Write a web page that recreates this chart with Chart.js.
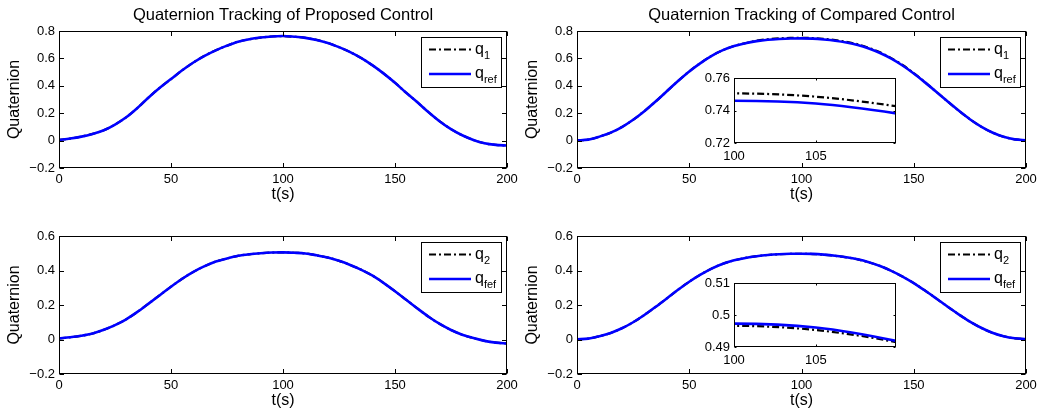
<!DOCTYPE html>
<html>
  <head>
    <title>Quaternion Tracking</title>
    <meta charset="UTF-8" />
    <script src="https://cdn.jsdelivr.net/npm/chart.js"></script>
    <style>
      body { margin: 0; background: #fff; }
      #wrap { position: relative; width: 1041px; height: 416px; }
      #wrap canvas { position: absolute; left: 0; top: 0; }
    </style>
  </head>
  <body>
    <div id="wrap">
      <canvas id="tl" width="1041" height="416"></canvas>
      <canvas id="tr" width="1041" height="416"></canvas>
      <canvas id="bl" width="1041" height="416"></canvas>
      <canvas id="br" width="1041" height="416"></canvas>
      <canvas id="trInset" width="1041" height="416"></canvas>
      <canvas id="brInset" width="1041" height="416"></canvas>
    </div>
    <script>
      // time samples (s)
      var time = [0, 5, 10, 15, 20, 25, 30, 35, 40, 45, 50, 55, 60, 65, 70, 75, 80, 85, 90, 95, 100,
                  105, 110, 115, 120, 125, 130, 135, 140, 145, 150, 155, 160, 165, 170, 175, 180, 185, 190, 195, 200];

      // proposed control
      var q1Proposed = [0.005, 0.015, 0.029, 0.049, 0.075, 0.117, 0.170, 0.238, 0.315, 0.386, 0.449, 0.513, 0.570, 0.619, 0.659, 0.693, 0.722, 0.740, 0.752, 0.760, 0.763,
                        0.758, 0.750, 0.735, 0.713, 0.682, 0.646, 0.602, 0.549, 0.489, 0.422, 0.349, 0.280, 0.207, 0.140, 0.084, 0.039, 0.005, -0.019, -0.031, -0.036];
      var qref1Proposed = [0.005, 0.015, 0.029, 0.049, 0.075, 0.117, 0.170, 0.238, 0.315, 0.386, 0.449, 0.513, 0.570, 0.619, 0.659, 0.693, 0.722, 0.740, 0.752, 0.760, 0.763,
                           0.758, 0.750, 0.735, 0.713, 0.682, 0.646, 0.602, 0.549, 0.489, 0.422, 0.349, 0.280, 0.207, 0.140, 0.084, 0.039, 0.005, -0.019, -0.031, -0.036];
      var q2Proposed = [0.006, 0.013, 0.022, 0.035, 0.056, 0.083, 0.117, 0.160, 0.208, 0.257, 0.306, 0.352, 0.392, 0.425, 0.452, 0.470, 0.485, 0.494, 0.500, 0.504, 0.505,
                        0.503, 0.499, 0.488, 0.475, 0.456, 0.432, 0.404, 0.370, 0.327, 0.280, 0.230, 0.180, 0.132, 0.090, 0.055, 0.028, 0.008, -0.008, -0.018, -0.023];
      var qref2Proposed = [0.006, 0.013, 0.022, 0.035, 0.056, 0.083, 0.117, 0.160, 0.208, 0.257, 0.306, 0.352, 0.392, 0.425, 0.452, 0.470, 0.485, 0.494, 0.500, 0.504, 0.505,
                           0.503, 0.499, 0.488, 0.475, 0.456, 0.432, 0.404, 0.370, 0.327, 0.280, 0.230, 0.180, 0.132, 0.090, 0.055, 0.028, 0.008, -0.008, -0.018, -0.023];

      // compared control
      var q1Compared = [0.002, 0.007, 0.029, 0.058, 0.099, 0.152, 0.215, 0.285, 0.360, 0.435, 0.505, 0.566, 0.619, 0.660, 0.690, 0.711, 0.729, 0.740, 0.746, 0.7495, 0.7505,
                        0.7485, 0.7425, 0.734, 0.721, 0.703, 0.677, 0.644, 0.602, 0.552, 0.493, 0.426, 0.357, 0.287, 0.219, 0.156, 0.102, 0.059, 0.028, 0.009, 0.003];
      var qref1Compared = [0.002, 0.007, 0.029, 0.058, 0.099, 0.152, 0.215, 0.285, 0.360, 0.435, 0.505, 0.566, 0.619, 0.660, 0.690, 0.711, 0.726, 0.736, 0.742, 0.7455, 0.746,
                           0.7443, 0.7381, 0.729, 0.716, 0.698, 0.672, 0.639, 0.598, 0.548, 0.490, 0.425, 0.357, 0.287, 0.219, 0.156, 0.102, 0.059, 0.028, 0.009, 0.003];
      var q2Compared = [0.001, 0.005, 0.019, 0.038, 0.065, 0.100, 0.142, 0.189, 0.238, 0.288, 0.335, 0.376, 0.411, 0.439, 0.459, 0.473, 0.483, 0.490, 0.494, 0.4962, 0.4966,
                        0.4953, 0.4914, 0.485, 0.4765, 0.4645, 0.4475, 0.426, 0.398, 0.365, 0.327, 0.284, 0.238, 0.191, 0.146, 0.104, 0.068, 0.039, 0.019, 0.007, 0.002];
      var qref2Compared = [0.001, 0.005, 0.019, 0.038, 0.065, 0.100, 0.142, 0.189, 0.238, 0.288, 0.335, 0.376, 0.411, 0.439, 0.459, 0.473, 0.483, 0.490, 0.4945, 0.4968, 0.4973,
                           0.4961, 0.4918, 0.4855, 0.477, 0.465, 0.448, 0.426, 0.398, 0.365, 0.327, 0.284, 0.238, 0.191, 0.146, 0.104, 0.068, 0.039, 0.019, 0.007, 0.002];

      // ticks and labels
      var timeTicks = [0, 50, 100, 150, 200];
      var yTicksQ1 = [-0.2, 0, 0.2, 0.4, 0.6, 0.8];
      var yTicksQ2 = [-0.2, 0, 0.2, 0.4, 0.6];
      var insetTimeTicks = [100, 105];
      var insetTicksQ1 = [0.72, 0.74, 0.76];
      var insetTicksQ2 = [0.49, 0.5, 0.51];
      var titles = ["Quaternion Tracking of Proposed Control", "Quaternion Tracking of Compared Control"];
      var legendSubsQ1 = ["1", "ref"];
      var legendSubsQ2 = ["2", "fef"];

      var FONT = '"Liberation Sans", Arial, Helvetica, sans-serif';
      Chart.defaults.font.family = FONT;
      Chart.defaults.color = "#000";

      var W = 1041, H = 416;
      var Y_BOX = 40, X_BOX = 24; // room kept for the tick labels

      function fmt(v) {
        var s = String(parseFloat(Math.abs(v).toFixed(4)));
        return v < 0 ? "\u2212" + s : s;
      }

      function points(arr) {
        return time.map(function (t, i) { return { x: t, y: arr[i] }; });
      }

      function decorPlugin(o) {
        return {
          id: "decor",
          beforeDraw: function (chart) {
            if (!o.inset) return;
            var a = chart.chartArea;
            chart.ctx.fillStyle = "#fff";
            chart.ctx.fillRect(a.left, a.top, a.right - a.left, a.bottom - a.top);
          },
          afterDraw: function (chart) {
            var a = chart.chartArea, ctx = chart.ctx;
            var xs = chart.scales.x, ys = chart.scales.y;
            ctx.save();
            ctx.strokeStyle = "#000";
            ctx.lineWidth = 1;
            var L = Math.round(a.left) + 0.5, R = Math.round(a.right) - 0.5;
            var T = Math.round(a.top) + 0.5, B = Math.round(a.bottom) - 0.5;
            ctx.strokeRect(L, T, R - L, B - T);
            // inward tick marks on all four sides
            ctx.beginPath();
            o.xTicks.forEach(function (v) {
              var p = Math.round(xs.getPixelForValue(v)) + 0.5;
              ctx.moveTo(p, B); ctx.lineTo(p, B - o.tick);
              ctx.moveTo(p, T); ctx.lineTo(p, T + o.tick);
            });
            o.yTicks.forEach(function (v) {
              var p = Math.round(ys.getPixelForValue(v)) + 0.5;
              ctx.moveTo(L, p); ctx.lineTo(L + o.tick, p);
              ctx.moveTo(R, p); ctx.lineTo(R - o.tick, p);
            });
            ctx.stroke();

            ctx.fillStyle = "#000";
            if (o.title) {
              ctx.font = "16.5px " + FONT;
              ctx.textAlign = "center";
              ctx.textBaseline = "middle";
              ctx.fillText(o.title, (a.left + a.right) / 2, a.top - 16);
            }
            if (o.xLabel) {
              ctx.font = "16px " + FONT;
              ctx.textAlign = "center";
              ctx.textBaseline = "middle";
              ctx.fillText(o.xLabel, (a.left + a.right) / 2, a.bottom + 27);
              ctx.save();
              ctx.translate(a.left - 44, (a.top + a.bottom) / 2);
              ctx.rotate(-Math.PI / 2);
              ctx.fillText(o.yLabel, 0, 0);
              ctx.restore();
            }
            if (o.legend) {
              var lw = 81, lh = 51;
              var lx = Math.round(a.right) - 5 - lw, ly = Math.round(a.top) + 6;
              ctx.fillStyle = "#fff";
              ctx.fillRect(lx, ly, lw, lh);
              ctx.strokeRect(lx + 0.5, ly + 0.5, lw - 1, lh - 1);
              o.legend.forEach(function (item, i) {
                var y = ly + 12.5 + i * 24.5;
                ctx.beginPath();
                ctx.setLineDash(item.dash || []);
                ctx.strokeStyle = item.color;
                ctx.lineWidth = item.width;
                ctx.moveTo(lx + 8, y);
                ctx.lineTo(lx + 50, y);
                ctx.stroke();
                ctx.setLineDash([]);
                ctx.fillStyle = "#000";
                ctx.textAlign = "left";
                ctx.textBaseline = "alphabetic";
                ctx.font = "16px " + FONT;
                ctx.fillText("q", lx + 54, y + 4);
                var qw = ctx.measureText("q").width;
                ctx.font = "11px " + FONT;
                ctx.fillText(item.sub, lx + 54 + qw, y + 9);
              });
            }
            ctx.restore();
          }
        };
      }

      function makeChart(id, area, o) {
        var ds = [
          {
            data: points(o.q),
            borderColor: "#000",
            borderWidth: 2.2,
            borderDash: [7, 3, 2, 3],
            order: 2
          },
          {
            data: points(o.ref),
            borderColor: "rgb(0,0,255)",
            borderWidth: 2.6,
            order: 1
          }
        ];
        ds.forEach(function (d) {
          d.pointRadius = 0;
          d.fill = false;
          d.cubicInterpolationMode = "monotone";
        });
        var legend = o.subs ? [
          { sub: o.subs[0], color: "#000", width: 2.2, dash: [7, 3, 2, 3] },
          { sub: o.subs[1], color: "rgb(0,0,255)", width: 2.6 }
        ] : null;
        return new Chart(document.getElementById(id), {
          type: "line",
          data: { datasets: ds },
          options: {
            responsive: false,
            animation: false,
            events: [],
            layout: {
              padding: { left: area.left - Y_BOX, top: area.top, right: W - area.right, bottom: H - area.bottom - X_BOX }
            },
            plugins: { legend: { display: false }, tooltip: { enabled: false } },
            scales: {
              x: {
                type: "linear",
                min: o.xMin,
                max: o.xMax,
                grid: { display: false, drawTicks: false },
                border: { display: false },
                afterBuildTicks: function (s) { s.ticks = o.xTicks.map(function (v) { return { value: v }; }); },
                afterFit: function (s) { s.height = X_BOX; },
                ticks: { font: { size: 13 }, padding: o.inset ? 6 : 4, maxRotation: 0, minRotation: 0, autoSkip: false, callback: fmt }
              },
              y: {
                type: "linear",
                min: o.yMin,
                max: o.yMax,
                grid: { display: false, drawTicks: false },
                border: { display: false },
                afterBuildTicks: function (s) { s.ticks = o.yTicks.map(function (v) { return { value: v }; }); },
                afterFit: function (s) { s.width = Y_BOX; },
                ticks: { font: { size: 13 }, padding: 4, autoSkip: false, callback: fmt }
              }
            }
          },
          plugins: [decorPlugin({
            xTicks: o.xTicks, yTicks: o.yTicks, tick: o.tick,
            title: o.title, xLabel: o.inset ? null : "t(s)", yLabel: "Quaternion",
            legend: legend, inset: o.inset
          })]
        });
      }

      makeChart("tl", { left: 59, top: 31, right: 507, bottom: 168 }, {
        q: q1Proposed, ref: qref1Proposed, xMin: 0, xMax: 200, yMin: -0.2, yMax: 0.8,
        xTicks: timeTicks, yTicks: yTicksQ1, tick: 4.5, title: titles[0], subs: legendSubsQ1
      });
      makeChart("tr", { left: 577, top: 31, right: 1026, bottom: 168 }, {
        q: q1Compared, ref: qref1Compared, xMin: 0, xMax: 200, yMin: -0.2, yMax: 0.8,
        xTicks: timeTicks, yTicks: yTicksQ1, tick: 4.5, title: titles[1], subs: legendSubsQ1
      });
      makeChart("bl", { left: 59, top: 236, right: 507, bottom: 374 }, {
        q: q2Proposed, ref: qref2Proposed, xMin: 0, xMax: 200, yMin: -0.2, yMax: 0.6,
        xTicks: timeTicks, yTicks: yTicksQ2, tick: 4.5, subs: legendSubsQ2
      });
      makeChart("br", { left: 577, top: 236, right: 1026, bottom: 374 }, {
        q: q2Compared, ref: qref2Compared, xMin: 0, xMax: 200, yMin: -0.2, yMax: 0.6,
        xTicks: timeTicks, yTicks: yTicksQ2, tick: 4.5, subs: legendSubsQ2
      });
      makeChart("trInset", { left: 734, top: 78, right: 896, bottom: 143 }, {
        q: q1Compared, ref: qref1Compared, xMin: 100, xMax: 109.9, yMin: 0.72, yMax: 0.76,
        xTicks: insetTimeTicks, yTicks: insetTicksQ1, tick: 2, inset: true
      });
      makeChart("brInset", { left: 734, top: 283, right: 896, bottom: 347 }, {
        q: q2Compared, ref: qref2Compared, xMin: 100, xMax: 109.9, yMin: 0.49, yMax: 0.51,
        xTicks: insetTimeTicks, yTicks: insetTicksQ2, tick: 2, inset: true
      });
    </script>
  </body>
</html>
